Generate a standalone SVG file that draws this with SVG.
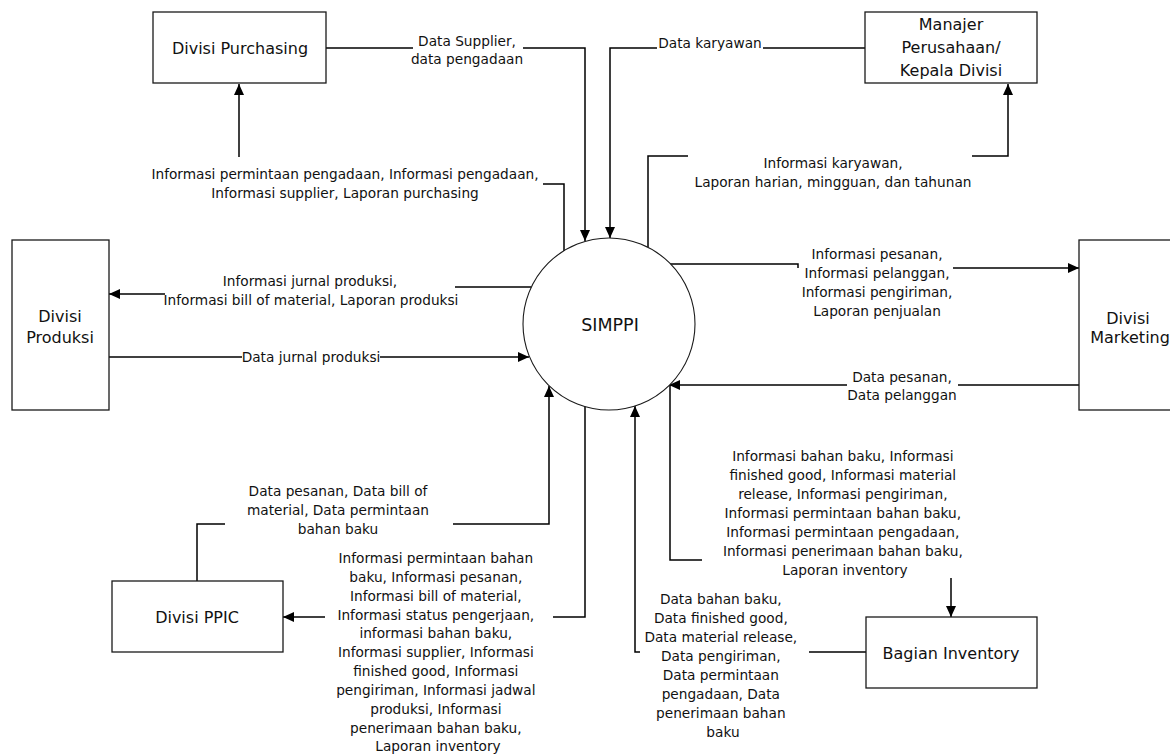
<svg xmlns="http://www.w3.org/2000/svg" width="1170" height="754" viewBox="0 0 1170 754">
  <defs>
    <marker id="arrow" markerWidth="11" markerHeight="10" refX="11" refY="5" orient="auto" markerUnits="userSpaceOnUse">
      <path d="M0,0 L11,5 L0,10 z" fill="#000"/>
    </marker>
    <style>
      .box { fill: #fff; stroke: #1a1a1a; stroke-width: 1.3; }
      .proc { fill: #fff; stroke: #1a1a1a; stroke-width: 1.1; }
      .flow { fill: none; stroke: #000; stroke-width: 1.5; }
      .arr { marker-end: url(#arrow); }
      .node { font-family: "DejaVu Sans", Verdana, sans-serif; font-size: 16px; fill: #111; text-anchor: middle; }
      .lbl { font-family: "DejaVu Sans", Verdana, sans-serif; font-size: 13.7px; fill: #111; text-anchor: middle; }
    </style>
  </defs>
  <rect width="1170" height="754" fill="#fff"/>

  <!-- data flows -->
  <g id="connectors">
    <!-- Purchasing -> SIMPPI -->
    <path class="flow" d="M326,48 H413"/>
    <path class="flow arr" d="M523,48 H585 V241"/>
    <!-- Manajer -> SIMPPI -->
    <path class="flow" d="M865,48 H763"/>
    <path class="flow arr" d="M657,48 H610 V238"/>
    <!-- SIMPPI -> Manajer -->
    <path class="flow" d="M648,247 V156 H688"/>
    <path class="flow arr" d="M972,156 H1008 V84"/>
    <!-- SIMPPI -> Purchasing -->
    <path class="flow" d="M564,251 V184 H543"/>
    <path class="flow arr" d="M239,157 V84"/>
    <!-- SIMPPI -> Produksi -->
    <path class="flow" d="M531,287 H455"/>
    <path class="flow arr" d="M165,294 H109"/>
    <!-- Produksi -> SIMPPI -->
    <path class="flow" d="M109,357 H242"/>
    <path class="flow arr" d="M380,357 H529"/>
    <!-- SIMPPI -> Marketing -->
    <path class="flow" d="M670,264 H798 V268"/>
    <path class="flow arr" d="M953,268 H1079"/>
    <!-- Marketing -> SIMPPI -->
    <path class="flow" d="M1079,385 H958"/>
    <path class="flow arr" d="M847,385 H669"/>
    <!-- PPIC -> SIMPPI -->
    <path class="flow" d="M197,581 V524 H225"/>
    <path class="flow arr" d="M453,524 H549 V386"/>
    <!-- SIMPPI -> PPIC -->
    <path class="flow" d="M585,406 V617 H553"/>
    <path class="flow arr" d="M325,617 H283"/>
    <!-- SIMPPI -> Inventory -->
    <path class="flow" d="M670,384 V560 H702"/>
    <path class="flow arr" d="M951,578 V617"/>
    <!-- Inventory -> SIMPPI -->
    <path class="flow" d="M866,652 H809"/>
    <path class="flow arr" d="M640,652 H635 V406"/>
  </g>

  <!-- flow labels -->
  <g id="flow-labels">
    <text class="lbl"><tspan x="467" y="46">Data Supplier,</tspan><tspan x="467" y="64">data pengadaan</tspan></text>
    <text class="lbl"><tspan x="710" y="48">Data karyawan</tspan></text>
    <text class="lbl"><tspan x="833" y="168">Informasi karyawan,</tspan><tspan x="833" y="187">Laporan harian, mingguan, dan tahunan</tspan></text>
    <text class="lbl"><tspan x="345" y="179">Informasi permintaan pengadaan, Informasi pengadaan,</tspan><tspan x="345" y="198">Informasi supplier, Laporan purchasing</tspan></text>
    <text class="lbl"><tspan x="310" y="286">Informasi jurnal produksi,</tspan><tspan x="311" y="305">Informasi bill of material, Laporan produksi</tspan></text>
    <text class="lbl"><tspan x="311" y="362">Data jurnal produksi</tspan></text>
    <text class="lbl"><tspan x="877" y="259">Informasi pesanan,</tspan><tspan x="877" y="278">Informasi pelanggan,</tspan><tspan x="877" y="297">Informasi pengiriman,</tspan><tspan x="877" y="316">Laporan penjualan</tspan></text>
    <text class="lbl"><tspan x="902" y="382">Data pesanan,</tspan><tspan x="902" y="400">Data pelanggan</tspan></text>
    <text class="lbl"><tspan x="338" y="496">Data pesanan, Data bill of</tspan><tspan x="338" y="515">material, Data permintaan</tspan><tspan x="338" y="534">bahan baku</tspan></text>
    <text class="lbl">
      <tspan x="438" y="563">Informasi permintaan bahan</tspan>
      <tspan x="438" y="582">baku, Informasi pesanan,</tspan>
      <tspan x="438" y="601">Informasi bill of material,</tspan>
      <tspan x="438" y="620">Informasi status pengerjaan,</tspan>
      <tspan x="438" y="638">informasi bahan baku,</tspan>
      <tspan x="438" y="657">Informasi supplier, Informasi</tspan>
      <tspan x="438" y="676">finished good, Informasi</tspan>
      <tspan x="438" y="695">pengiriman, Informasi jadwal</tspan>
      <tspan x="438" y="714">produksi, Informasi</tspan>
      <tspan x="438" y="733">penerimaan bahan baku,</tspan>
      <tspan x="438" y="751">Laporan inventory</tspan>
    </text>
    <text class="lbl">
      <tspan x="845" y="461">Informasi bahan baku, Informasi</tspan>
      <tspan x="845" y="480">finished good, Informasi material</tspan>
      <tspan x="845" y="499">release, Informasi pengiriman,</tspan>
      <tspan x="845" y="518">Informasi permintaan bahan baku,</tspan>
      <tspan x="845" y="537">Informasi permintaan pengadaan,</tspan>
      <tspan x="845" y="556">Informasi penerimaan bahan baku,</tspan>
      <tspan x="845" y="575">Laporan inventory</tspan>
    </text>
    <text class="lbl">
      <tspan x="723" y="604">Data bahan baku,</tspan>
      <tspan x="723" y="623">Data finished good,</tspan>
      <tspan x="723" y="642">Data material release,</tspan>
      <tspan x="723" y="661">Data pengiriman,</tspan>
      <tspan x="723" y="680">Data permintaan</tspan>
      <tspan x="723" y="699">pengadaan, Data</tspan>
      <tspan x="723" y="718">penerimaan bahan</tspan>
      <tspan x="723" y="737">baku</tspan>
    </text>
  </g>

  <!-- central process -->
  <g id="simppi">
    <circle class="proc" cx="609" cy="324" r="86"/>
    <text class="node" x="610" y="331" style="font-size:17.5px">SIMPPI</text>
  </g>

  <!-- external entities -->
  <g id="divisi-purchasing">
    <rect class="box" x="153" y="12" width="173" height="71"/>
    <text class="node" x="240" y="54">Divisi Purchasing</text>
  </g>
  <g id="manajer">
    <rect class="box" x="865" y="12" width="172" height="71"/>
    <text class="node"><tspan x="951" y="30">Manajer</tspan><tspan x="951" y="53">Perusahaan/</tspan><tspan x="951" y="76">Kepala Divisi</tspan></text>
  </g>
  <g id="divisi-produksi">
    <rect class="box" x="12" y="240" width="97" height="170"/>
    <text class="node"><tspan x="60" y="322">Divisi</tspan><tspan x="60" y="343">Produksi</tspan></text>
  </g>
  <g id="divisi-marketing">
    <rect class="box" x="1079" y="240" width="110" height="170"/>
    <text class="node"><tspan x="1128" y="324">Divisi</tspan><tspan x="1130" y="343">Marketing</tspan></text>
  </g>
  <g id="divisi-ppic">
    <rect class="box" x="112" y="581" width="171" height="71"/>
    <text class="node" x="197" y="623">Divisi PPIC</text>
  </g>
  <g id="bagian-inventory">
    <rect class="box" x="866" y="617" width="171" height="71"/>
    <text class="node" x="951" y="659">Bagian Inventory</text>
  </g>
</svg>
